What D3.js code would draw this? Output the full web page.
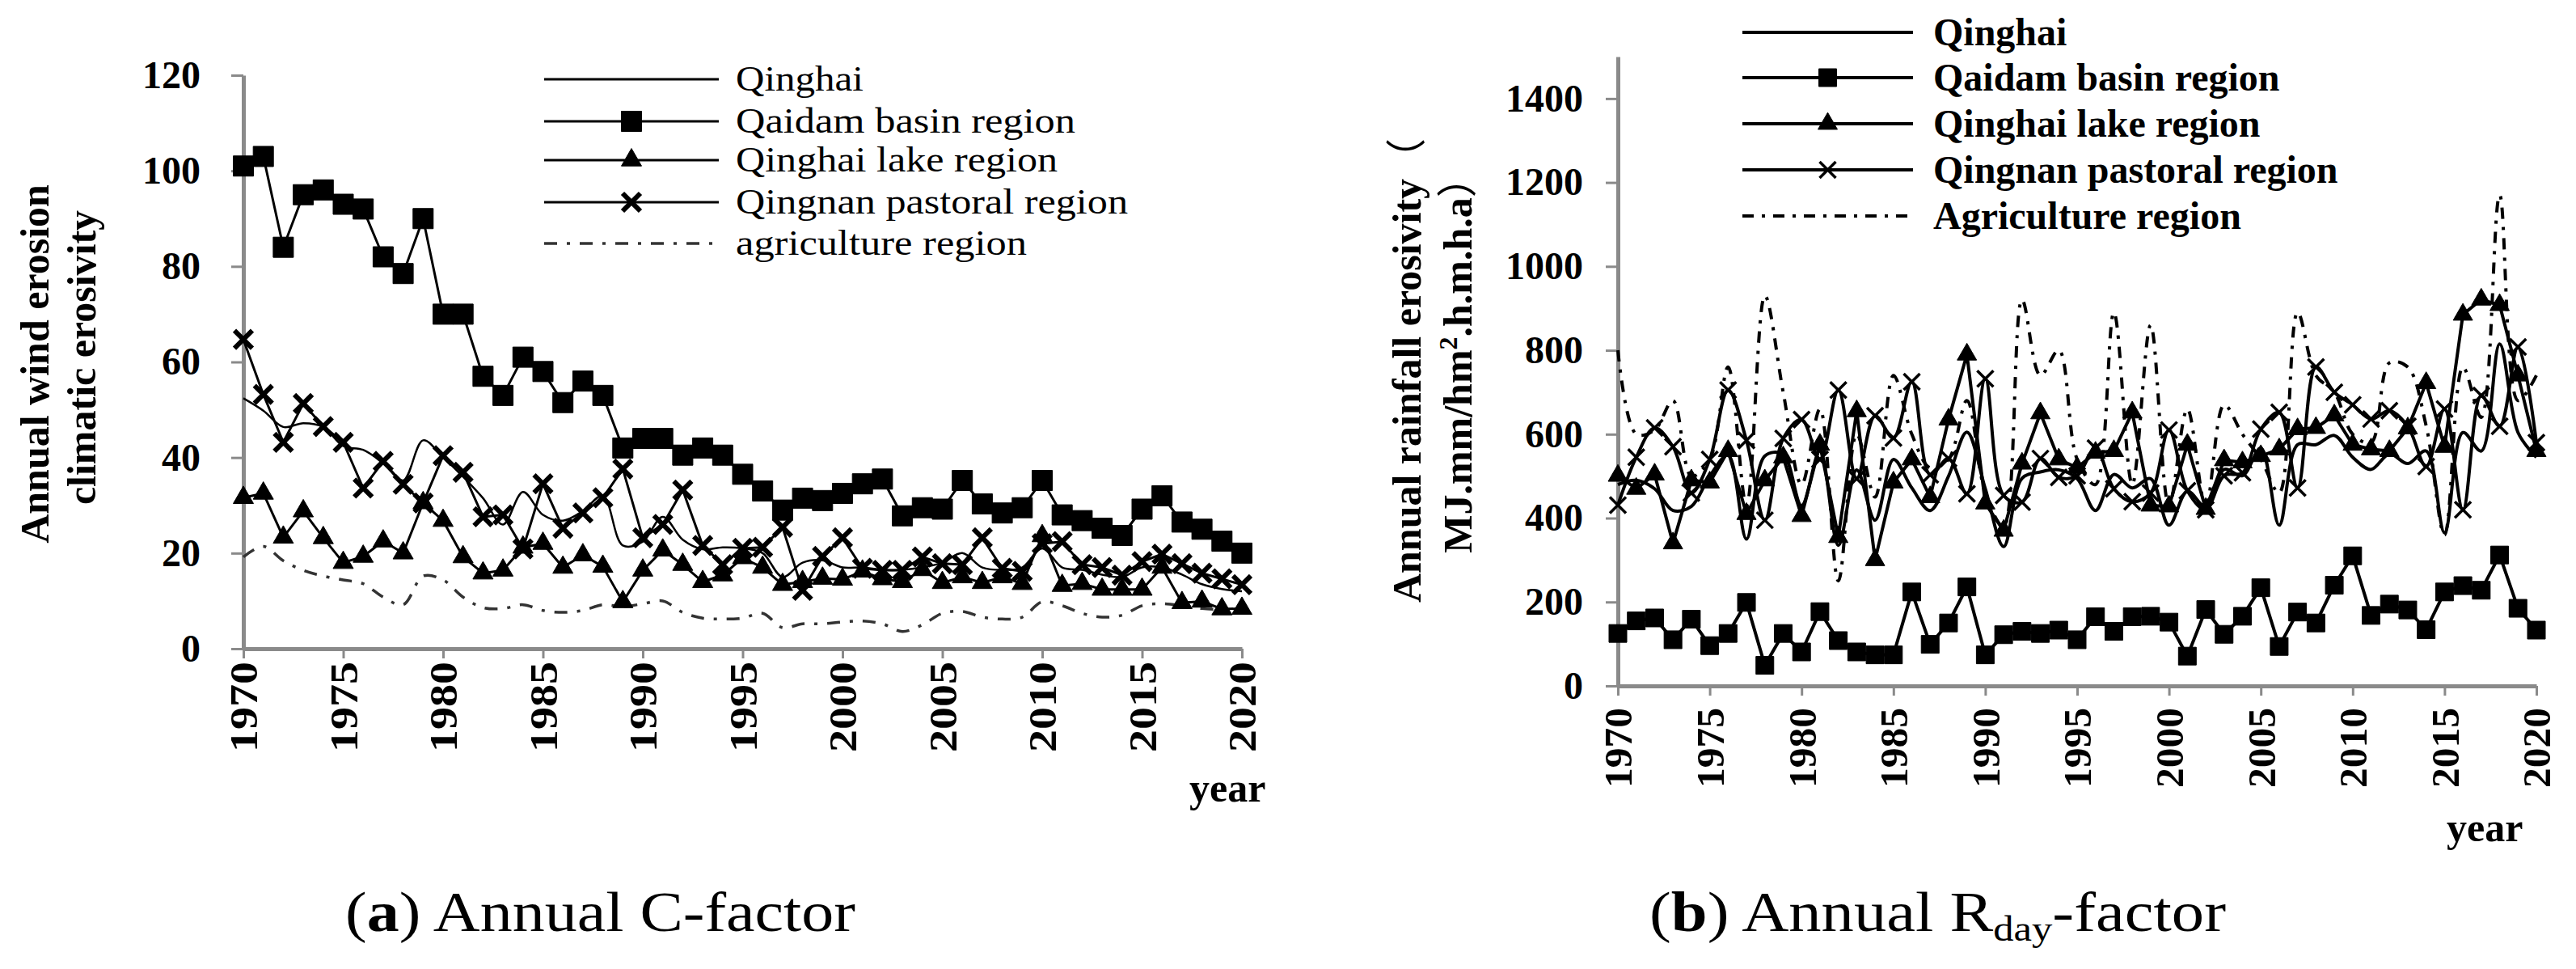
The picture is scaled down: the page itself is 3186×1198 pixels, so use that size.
<!DOCTYPE html>
<html>
<head>
<meta charset="utf-8">
<script src="https://cdnjs.cloudflare.com/ajax/libs/d3/7.8.5/d3.min.js"></script>
<style>
  body { margin: 0; background: #fff; }
  svg text { font-family: "Liberation Serif", "Times New Roman", serif; fill: #000; }
</style>
</head>
<body>
<div class="chart"></div>
<script>
// ---- data ----
const years = d3.range(1970, 2021);
const yearTicks = [1970, 1975, 1980, 1985, 1990, 1995, 2000, 2005, 2010, 2015, 2020];
const cTicks = [0, 20, 40, 60, 80, 100, 120];
const rTicks = [0, 200, 400, 600, 800, 1000, 1200, 1400];

// (a) wind erosion climatic erosivity (C-factor)
const cQinghai = [52.4, 49.8, 46.4, 47.2, 46.4, 42.4, 41.6, 38.8, 35.2, 43.6,
                  40, 36, 31.5, 26, 32.8, 28, 26.8, 28.8, 32, 21.6,
                  22.4, 27.6, 22.8, 20.8, 21.2, 21, 20, 15, 18, 18.5,
                  17, 17, 16.5, 16.5, 17, 18, 20, 17, 16.5, 17,
                  21, 17, 16.5, 15.5, 15, 17, 17, 15.5, 13.5, 12.5, 12];
const cQaidam = [101, 103, 84, 95, 96, 93, 92, 82, 78.5, 90,
                 70, 70, 57, 53, 61, 58, 51.5, 56, 53, 42,
                 44, 44, 40.5, 42, 40.5, 36.5, 33, 29, 31.5, 31,
                 32.5, 34.5, 35.5, 27.8, 29.5, 29.2, 35.2, 30.3, 28.4, 29.5,
                 35.2, 28, 26.8, 25.2, 23.7, 29.2, 32, 26.5, 25, 22.5, 20];
const cLake = [31.6, 32.5, 23.3, 28.8, 23.2, 18, 19.3, 22.5, 20, 30.5,
               26.8, 19.2, 15.8, 16.4, 21.2, 22, 17, 19.6, 17.2, 9.8,
               16.4, 20.6, 17.6, 14, 15.4, 19, 17, 13.4, 14, 14.7,
               14.5, 16.2, 14.6, 14, 16.5, 13.8, 15, 13.8, 15, 13.6,
               23.6, 13.2, 13.6, 12.4, 12.4, 12.4, 17, 9.6, 9.9, 8.3, 8.4];
const cQingnan = [64.7, 53.2, 43.2, 51.3, 46.5, 43.2, 33.6, 39.2, 34.4, 30.5,
                  40.4, 36.9, 27.6, 28, 20.9, 34.5, 25.2, 28.4, 31.6, 37.6,
                  23.2, 26, 33.2, 21.6, 17.6, 21, 21.2, 25.4, 12.2, 19.3,
                  23.2, 16.8, 16.4, 16.4, 19.2, 17.8, 17.6, 23.2, 16.8, 16.2,
                  22, 22.4, 17.6, 17, 15.4, 18.2, 19.8, 17.8, 15.8, 14.6, 13.4];
const cAgri = [19.2, 21.4, 18.4, 16.4, 15.2, 14.4, 13.6, 10.8, 9.2, 15.2,
               14.4, 10.8, 8.6, 8.4, 9.2, 8, 7.6, 8, 9.2, 8.8,
               9.4, 10, 7.6, 6.4, 6.2, 6.4, 7.4, 4.4, 5.2, 5.2,
               5.6, 5.8, 5.2, 3.6, 5, 7.4, 7.8, 6.6, 6.2, 6.6,
               9.8, 9, 7.4, 6.6, 7, 9, 9.4, 9, 8.4, 8.2, 8];

// (b) rainfall erosivity (R-factor)
const rQinghai = [480, 490, 470, 418, 428, 500, 550, 350, 548, 552,
                  430, 560, 335, 515, 395, 540, 472, 418, 500, 605,
                  470, 332, 495, 510, 515, 494, 418, 504, 472, 494,
                  383, 464, 427, 516, 501, 567, 383, 575, 575, 597,
                  545, 516, 553, 530, 560, 365, 604, 560, 815, 604, 545];
const rQaidam = [125, 155, 162, 110, 159, 96, 125, 199, 49, 125,
                 81, 177, 108, 81, 74, 74, 224, 99, 150, 236,
                 74, 122, 130, 125, 133, 110, 165, 130, 165, 166,
                 152, 71, 182, 123, 166, 234, 94, 176, 150, 240,
                 310, 168, 195, 181, 134, 224, 239, 228, 312, 185, 133];
const rLake = [501, 470, 504, 340, 490, 485, 560, 410, 490, 545,
               405, 575, 355, 655, 300, 485, 540, 450, 635, 790,
               435, 370, 530, 650, 540, 520, 556, 560, 652, 430,
               428, 575, 422, 538, 533, 548, 564, 612, 615, 645,
               575, 564, 560, 614, 722, 570, 885, 921, 908, 740, 560];
const rQingnan = [431, 545, 615, 570, 460, 540, 705, 585, 395, 590,
                  635, 540, 705, 494, 644, 591, 725, 503, 542, 458,
                  732, 454, 438, 542, 497, 501, 567, 470, 439, 460,
                  610, 465, 420, 501, 508, 612, 652, 472, 760, 700,
                  670, 636, 656, 619, 523, 660, 420, 692, 619, 808, 580];
const rAgri = [800, 600, 610, 680, 500, 540, 760, 430, 930, 700,
               480, 660, 250, 600, 450, 740, 600, 520, 540, 680,
               460, 380, 920, 740, 800, 540, 480, 890, 480, 860,
               430, 660, 430, 670, 600, 540, 460, 890, 740, 700,
               600, 580, 770, 760, 620, 360, 760, 640, 1170, 680, 740];

const svg = d3.select(".chart").append("svg")
    .attr("width", 3186)
    .attr("height", 1198);

const axisGrey = "#8a8a8a";
const serif = '"Liberation Serif", "Times New Roman", serif';

function markerPath(type, s) {
    if (type === "square") return d3.symbol().type(d3.symbolSquare).size(s * s)();
    if (type === "triangle") return d3.symbol().type(d3.symbolTriangle).size(s * s * 0.433)();
    if (type === "x") {
        const r = s / 2;
        return `M${-r},${-r}L${r},${r}M${-r},${r}L${r},${-r}`;
    }
    return null;
}

function drawPanel(p) {
    const g = svg.append("g");
    const x = d3.scaleLinear().domain([1970, 2020]).range(p.xRange);
    const y = d3.scaleLinear().domain(p.yDomain).range(p.yRange);

    // y axis
    const yAxis = g.append("g")
        .attr("transform", `translate(${p.xRange[0]},0)`)
        .call(d3.axisLeft(y).tickValues(p.yTicks).tickSize(15).tickSizeOuter(0)
            .tickPadding(p.yPad).tickFormat(d3.format("d")));
    // x axis
    const xAxis = g.append("g")
        .attr("transform", `translate(0,${p.yRange[0]})`)
        .call(d3.axisBottom(x).tickValues(yearTicks).tickSize(12).tickSizeOuter(0)
            .tickFormat(d3.format("d")));

    [yAxis, xAxis].forEach(a => {
        a.attr("font-family", null).attr("font-size", null);
        a.select(".domain").attr("stroke", axisGrey).attr("stroke-width", 5);
        a.selectAll(".tick line").attr("stroke", axisGrey).attr("stroke-width", 3);
        a.selectAll("text")
            .attr("font-family", serif)
            .style("font-family", serif)
            .style("font-weight", "bold")
            .style("font-size", "48px")
            .attr("fill", "#000");
    });
    xAxis.selectAll("text")
        .attr("transform", "rotate(-90)")
        .attr("x", -p.xPad)
        .attr("y", 0)
        .attr("dy", "0.35em")
        .attr("textLength", p.xLabLen)
        .attr("lengthAdjust", "spacingAndGlyphs")
        .style("text-anchor", "end");

    // series lines
    p.series.forEach(s => {
        const line = d3.line()
            .x((d, i) => x(years[i]))
            .y(d => y(d))
            .curve(s.smooth ? d3.curveCatmullRom.alpha(0.5) : d3.curveLinear);
        g.append("path")
            .datum(s.values)
            .attr("d", line)
            .attr("fill", "none")
            .attr("stroke", s.color || "#000")
            .attr("stroke-width", s.width)
            .attr("stroke-dasharray", s.dash || null)
            .attr("stroke-linejoin", "round");
        if (s.marker) {
            g.selectAll(null)
                .data(s.values)
                .enter()
                .append("path")
                .attr("transform", (d, i) => `translate(${x(years[i])},${y(d)})`)
                .attr("d", markerPath(s.marker, p.markSize[s.marker]))
                .attr("fill", "#000")
                .attr("stroke", "#000")
                .attr("stroke-width", s.marker === "x" ? p.xStroke : 1)
                .attr("stroke-linejoin", "round");
        }
    });

    // legend
    const lg = g.append("g");
    p.legendOrder.forEach((s, i) => {
        const ly = p.legend.rows[i];
        lg.append("line")
            .attr("x1", p.legend.x1).attr("x2", p.legend.x2)
            .attr("y1", ly).attr("y2", ly)
            .attr("stroke", s.color || "#000")
            .attr("stroke-width", s.legendWidth || s.width)
            .attr("stroke-dasharray", s.dash || null);
        if (s.marker) {
            lg.append("path")
                .attr("transform", `translate(${(p.legend.x1 + p.legend.x2) / 2},${ly})`)
                .attr("d", markerPath(s.marker, p.markSize[s.marker]))
                .attr("fill", "#000")
                .attr("stroke", "#000")
                .attr("stroke-width", s.marker === "x" ? p.xStroke : 1);
        }
        lg.append("text")
            .attr("x", p.legend.tx)
            .attr("y", ly + p.legend.dy)
            .attr("textLength", s.textLen || null)
            .attr("lengthAdjust", "spacingAndGlyphs")
            .style("font-size", p.legend.size + "px")
            .style("font-weight", p.legend.weight)
            .text(s.name);
    });
    return g;
}

// ---- panel (a) ----
const aQinghai = {name: "Qinghai", values: cQinghai, smooth: true, width: 2.5, legendWidth: 3, textLen: 158};
const aQaidam = {name: "Qaidam  basin region", values: cQaidam, marker: "square", width: 3, textLen: 420};
const aLake = {name: "Qinghai lake region", values: cLake, marker: "triangle", width: 3, textLen: 398};
const aQingnan = {name: "Qingnan pastoral region", values: cQingnan, marker: "x", width: 3, textLen: 485};
const aAgri = {name: "agriculture region", values: cAgri, smooth: true, width: 3.5, dash: "16,12,4,12", color: "#333", textLen: 360};

drawPanel({
    xRange: [301, 1536], yDomain: [0, 120], yRange: [802, 93], yTicks: cTicks,
    yPad: 38, xPad: 16, xLabLen: 112,
    markSize: {square: 25, triangle: 25, x: 22}, xStroke: 6,
    series: [aAgri, aQinghai, aLake, aQingnan, aQaidam],
    legendOrder: [aQinghai, aQaidam, aLake, aQingnan, aAgri],
    legend: {x1: 673, x2: 889, tx: 910, dy: 14, size: 44, weight: "normal", rows: [98, 150, 198, 250, 301]}
});

// ---- panel (b) ----
const bQinghai = {name: "Qinghai", values: rQinghai, smooth: true, width: 4};
const bQaidam = {name: "Qaidam basin region", values: rQaidam, marker: "square", width: 4};
const bLake = {name: "Qinghai lake region", values: rLake, marker: "triangle", width: 4};
const bQingnan = {name: "Qingnan pastoral region", values: rQingnan, marker: "x", smooth: true, width: 4};
const bAgri = {name: "Agriculture region", values: rAgri, smooth: true, width: 4, dash: "14,10,4,10"};

drawPanel({
    xRange: [2001, 3137], yDomain: [0, 1500], yRange: [848, 70], yTicks: rTicks,
    yPad: 28, xPad: 27, xLabLen: 99,
    markSize: {square: 22, triangle: 24, x: 20}, xStroke: 3.5,
    series: [bAgri, bQinghai, bQingnan, bLake, bQaidam],
    legendOrder: [bQinghai, bQaidam, bLake, bQingnan, bAgri],
    legend: {x1: 2155, x2: 2366, tx: 2391, dy: 16, size: 48, weight: "bold", rows: [40, 96, 153, 210, 267]}
});

// ---- axis titles ----
const yTitleA = ["Annual wind erosion", "climatic erosivity"];
svg.selectAll(".ytA")
    .data(yTitleA)
    .enter()
    .append("text")
    .attr("transform", (d, i) => `translate(${[60, 118][i]},${[450, 442][i]}) rotate(-90)`)
    .attr("text-anchor", "middle")
    .style("font-size", "50px")
    .style("font-weight", "bold")
    .text(d => d);

const tb1 = svg.append("text")
    .attr("transform", "translate(1757,458) rotate(-90)")
    .attr("text-anchor", "middle")
    .style("font-size", "50px")
    .style("font-weight", "bold");
tb1.append("tspan").text("Annual rainfall erosivity");
tb1.append("tspan").style("font-family", '"Noto Sans CJK SC", sans-serif').style("font-weight", "normal").text("（");

const tb2 = svg.append("text")
    .attr("transform", "translate(1820,439) rotate(-90)")
    .attr("text-anchor", "middle")
    .style("font-size", "50px")
    .style("font-weight", "bold");
tb2.append("tspan").text("MJ.mm/hm");
tb2.append("tspan").attr("dy", -18).style("font-size", "32px").text("2");
tb2.append("tspan").attr("dy", 18).text(".h.m.h.a");
tb2.append("tspan").style("font-family", '"Noto Sans CJK SC", sans-serif').style("font-weight", "normal").text("）");

svg.selectAll(".yearLab")
    .data([[1471, 991], [3026, 1040]])
    .enter()
    .append("text")
    .attr("x", d => d[0])
    .attr("y", d => d[1])
    .style("font-size", "50px")
    .style("font-weight", "bold")
    .text("year");

// ---- captions ----
const capA = svg.append("text")
    .attr("x", 427).attr("y", 1151)
    .attr("textLength", 631).attr("lengthAdjust", "spacingAndGlyphs")
    .style("font-size", "70px");
capA.append("tspan").text("(");
capA.append("tspan").style("font-weight", "bold").text("a");
capA.append("tspan").text(") Annual C-factor");

const capB = svg.append("text")
    .attr("x", 2040).attr("y", 1151)
    .attr("textLength", 713).attr("lengthAdjust", "spacingAndGlyphs")
    .style("font-size", "70px");
capB.append("tspan").text("(");
capB.append("tspan").style("font-weight", "bold").text("b");
capB.append("tspan").text(") Annual R");
capB.append("tspan").attr("dy", 12).style("font-size", "44px").text("day");
capB.append("tspan").attr("dy", -12).text("-factor");
</script>
</body>
</html>
